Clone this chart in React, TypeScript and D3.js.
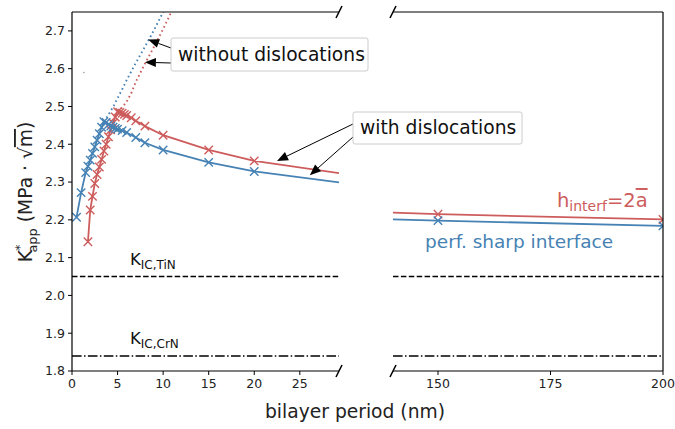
import React from 'react';
import * as d3 from 'd3';

const width = 675;
const height = 429;
const blue = '#4682b4';
const red = '#cd5c5c';
const font = 'DejaVu Sans, sans-serif';

// perf. sharp interface (with dislocations)
const periodBlue = [0.5, 1.0, 1.5, 1.75, 2.0, 2.25, 2.5, 2.75, 3.0, 3.25, 3.5, 3.75, 4.0, 4.25, 4.5, 4.75, 5.0, 5.5, 6.0, 7, 8, 10, 15, 20, 30, 100, 150, 200];
const kBlue = [2.207, 2.272, 2.325, 2.342, 2.358, 2.376, 2.393, 2.411, 2.428, 2.445, 2.46, 2.458, 2.452, 2.448, 2.445, 2.442, 2.44, 2.436, 2.431, 2.418, 2.404, 2.385, 2.352, 2.328, 2.297, 2.213, 2.198, 2.184];

// h_interf = 2a (with dislocations)
const periodRed = [1.75, 2.0, 2.25, 2.5, 2.75, 3.0, 3.25, 3.5, 3.75, 4.0, 4.25, 4.5, 4.75, 5.0, 5.25, 5.5, 5.75, 6.0, 6.5, 7, 8, 10, 15, 20, 30, 100, 150, 200];
const kRed = [2.142, 2.226, 2.262, 2.296, 2.32, 2.34, 2.36, 2.382, 2.4, 2.42, 2.438, 2.456, 2.472, 2.486, 2.484, 2.482, 2.479, 2.476, 2.47, 2.462, 2.448, 2.424, 2.385, 2.356, 2.321, 2.235, 2.215, 2.201];

// without dislocations
const periodBlueFree = [3.5, 4, 4.5, 5, 5.5, 6, 7, 8, 9, 10, 11];
const kBlueFree = [2.46, 2.478, 2.498, 2.522, 2.545, 2.57, 2.615, 2.658, 2.702, 2.75, 2.8];
const periodRedFree = [5.0, 5.5, 6, 6.5, 7, 8, 9, 10, 11, 12];
const kRedFree = [2.486, 2.497, 2.513, 2.535, 2.565, 2.613, 2.658, 2.705, 2.755, 2.8];

const strayPoint = [1.3, 2.59];

const kTiN = 2.05;
const kCrN = 1.84;

const xTicksLeft = [0, 5, 10, 15, 20, 25];
const xTicksRight = [150, 175, 200];
const yTicks = [1.8, 1.9, 2.0, 2.1, 2.2, 2.3, 2.4, 2.5, 2.6, 2.7];

const top = 12;
const bottom = 371;
const xL = d3.scaleLinear().domain([0, 29.3]).range([72, 339]);
const xR = d3.scaleLinear().domain([140, 200]).range([393, 663]);
const y = d3.scaleLinear().domain([1.8, 2.75]).range([bottom, top]);

const zip = (xs: number[], ys: number[]) => xs.map((v, i) => [v, ys[i]] as [number, number]);

function Panel({ x, clip }: { x: d3.ScaleLinear<number, number>; clip: string }) {
  const line = d3.line<[number, number]>().x((d) => x(d[0])).y((d) => y(d[1]));
  const cross = (pts: [number, number][], color: string) =>
    pts.map((d, i) => {
      const cx = x(d[0]);
      const cy = y(d[1]);
      const s = 4.2;
      return (
        <path key={i} d={`M${cx - s},${cy - s}L${cx + s},${cy + s}M${cx - s},${cy + s}L${cx + s},${cy - s}`} stroke={color} strokeWidth={1.4} fill="none" />
      );
    });
  const blueData = zip(periodBlue, kBlue);
  const redData = zip(periodRed, kRed);
  const [x0, x1] = x.range();
  return (
    <g clipPath={`url(#${clip})`}>
      <line x1={x0} x2={x1} y1={y(kTiN)} y2={y(kTiN)} stroke="#000" strokeWidth={1.5} strokeDasharray="5.5,2.4" />
      <line x1={x0} x2={x1} y1={y(kCrN)} y2={y(kCrN)} stroke="#000" strokeWidth={1.5} strokeDasharray="9.6,2.4,1.5,2.4" />
      <path d={line(zip(periodBlueFree, kBlueFree)) || ''} stroke={blue} strokeWidth={1.9} strokeDasharray="1.6,3" fill="none" />
      <path d={line(zip(periodRedFree, kRedFree)) || ''} stroke={red} strokeWidth={1.9} strokeDasharray="1.6,3" fill="none" />
      <path d={line(redData) || ''} stroke={red} strokeWidth={1.8} fill="none" />
      <path d={line(blueData) || ''} stroke={blue} strokeWidth={1.8} fill="none" />
      {cross(redData, red)}
      {cross(blueData, blue)}
      <circle cx={x(strayPoint[0])} cy={y(strayPoint[1])} r={0.8} fill="#999" />
    </g>
  );
}

const Arrow = ({ x1, y1, x2, y2 }: { x1: number; y1: number; x2: number; y2: number }) => {
  const a = Math.atan2(y2 - y1, x2 - x1);
  const L = 11;
  const W = 4.5;
  const bx = x2 - L * Math.cos(a);
  const by = y2 - L * Math.sin(a);
  const px = -Math.sin(a) * W;
  const py = Math.cos(a) * W;
  return (
    <g>
      <line x1={x1} y1={y1} x2={bx} y2={by} stroke="#000" strokeWidth={1} />
      <path d={`M${x2},${y2}L${bx + px},${by + py}L${bx - px},${by - py}Z`} fill="#000" />
    </g>
  );
};

const Break = ({ cx, cy }: { cx: number; cy: number }) => (
  <line x1={cx - 3} y1={cy + 6} x2={cx + 3} y2={cy - 6} stroke="#000" strokeWidth={1.5} />
);

export default function App() {
  const [l0, l1] = xL.range();
  const [r0, r1] = xR.range();
  return (
    <svg width={width} height={height} style={{ position: 'absolute', left: 0, top: 0, background: '#fff' }} fontFamily={font}>
      <defs>
        <clipPath id="clipL">
          <rect x={l0} y={top} width={l1 - l0} height={bottom - top} />
        </clipPath>
        <clipPath id="clipR">
          <rect x={r0} y={top} width={r1 - r0} height={bottom - top} />
        </clipPath>
      </defs>
      <rect width={width} height={height} fill="#fff" />

      <Panel x={xL} clip="clipL" />
      <Panel x={xR} clip="clipR" />

      {/* spines */}
      <g stroke="#000" strokeWidth={1.2} fill="none">
        <line x1={l0} x2={l1} y1={top} y2={top} />
        <line x1={l0} x2={l1} y1={bottom} y2={bottom} />
        <line x1={l0} x2={l0} y1={top} y2={bottom} />
        <line x1={r0} x2={r1} y1={top} y2={top} />
        <line x1={r0} x2={r1} y1={bottom} y2={bottom} />
        <line x1={r1} x2={r1} y1={top} y2={bottom} />
      </g>
      <Break cx={l1} cy={top} />
      <Break cx={l1} cy={bottom} />
      <Break cx={r0} cy={top} />
      <Break cx={r0} cy={bottom} />

      {/* y ticks */}
      {yTicks.map((t) => (
        <g key={t}>
          <line x1={l0 - 4} x2={l0} y1={y(t)} y2={y(t)} stroke="#000" strokeWidth={1} />
          <text x={l0 - 7} y={y(t)} dy="0.35em" textAnchor="end" fontSize={12.5} fill="#222">
            {t.toFixed(1)}
          </text>
        </g>
      ))}
      {/* x ticks */}
      {xTicksLeft.map((t) => (
        <g key={'l' + t}>
          <line x1={xL(t)} x2={xL(t)} y1={bottom} y2={bottom + 4} stroke="#000" strokeWidth={1} />
          <text x={xL(t)} y={bottom + 17} textAnchor="middle" fontSize={12.5} fill="#222">
            {t}
          </text>
        </g>
      ))}
      {xTicksRight.map((t) => (
        <g key={'r' + t}>
          <line x1={xR(t)} x2={xR(t)} y1={bottom} y2={bottom + 4} stroke="#000" strokeWidth={1} />
          <text x={xR(t)} y={bottom + 17} textAnchor="middle" fontSize={12.5} fill="#222">
            {t}
          </text>
        </g>
      ))}

      {/* axis labels */}
      <text x={355} y={418} textAnchor="middle" fontSize={18.7} fill="#222">
        bilayer period (nm)
      </text>
      <g transform="translate(32,192) rotate(-90)">
        <text textAnchor="middle" fontSize={18.7} fill="#222">
          <tspan>K</tspan>
          <tspan fontSize={13} dy={-8} dx={-1}>*</tspan>
          <tspan fontSize={13} dy={13} dx={-8}>app</tspan>
          <tspan dy={-5}> (MPa · √</tspan>
          <tspan textDecoration="overline">m</tspan>
          <tspan>)</tspan>
        </text>
      </g>

      {/* reference toughness labels */}
      <text x={130} y={265} fontSize={16.5} fill="#111">
        K<tspan fontSize={12} dy={4}>IC,TiN</tspan>
      </text>
      <text x={130} y={344} fontSize={16.5} fill="#111">
        K<tspan fontSize={12} dy={4}>IC,CrN</tspan>
      </text>

      {/* series labels */}
      <text x={557} y={207} fontSize={19.5} fill={red}>
        h<tspan fontSize={14} dy={4}>interf</tspan>
        <tspan dy={-4}>=2</tspan>
        <tspan textDecoration="overline">a</tspan>
      </text>
      <text x={425} y={248} fontSize={18.5} fill={blue}>
        perf. sharp interface
      </text>

      {/* annotations */}
      <Arrow x1={171} y1={48} x2={xL(8.35)} y2={y(2.677)} />
      <Arrow x1={171} y1={63} x2={xL(8.0)} y2={y(2.617)} />
      <rect x={171} y={38} width={197} height={33} rx={2} fill="#fff" stroke="#ccc" strokeWidth={1} />
      <text x={178} y={61} fontSize={18.7} fill="#111">
        without dislocations
      </text>

      <Arrow x1={353} y1={124} x2={xL(22.5)} y2={y(2.356)} />
      <Arrow x1={353} y1={137} x2={xL(26.1)} y2={y(2.318)} />
      <rect x={353} y={112} width={169} height={32} rx={2} fill="#fff" stroke="#ccc" strokeWidth={1} />
      <text x={360} y={134} fontSize={18.7} fill="#111">
        with dislocations
      </text>
    </svg>
  );
}
